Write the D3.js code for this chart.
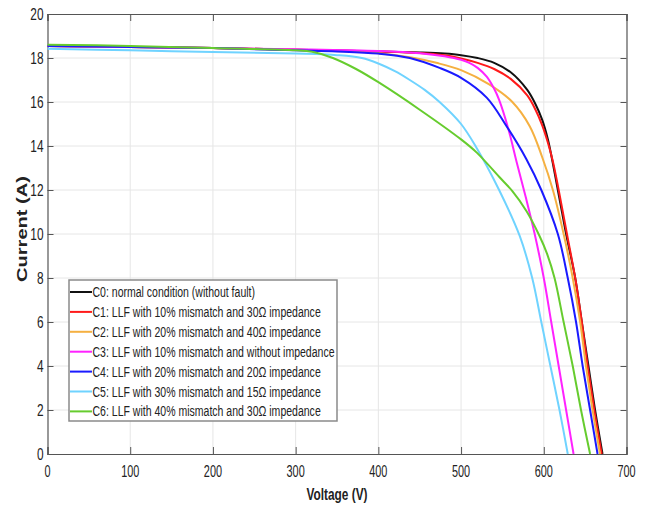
<!DOCTYPE html>
<html>
<head>
<meta charset="utf-8">
<script src="https://cdn.jsdelivr.net/npm/d3@7"></script>
<style>
  body { margin: 0; background: #fff; }
  svg { display: block; }
  text { font-family: "Liberation Sans", Arial, sans-serif; fill: #222; }
</style>
</head>
<body>
<div class="container"></div>
<script>
// tick values
const xTicks = [0, 100, 200, 300, 400, 500, 600, 700];
const yTicks = [0, 2, 4, 6, 8, 10, 12, 14, 16, 18, 20];

const legendLabels = [
  'C0: normal condition (without fault)',
  'C1: LLF with 10% mismatch and 30\u03A9 impedance',
  'C2: LLF with 20% mismatch and 40\u03A9 impedance',
  'C3: LLF with 10% mismatch and without impedance',
  'C4: LLF with 20% mismatch and 20\u03A9 impedance',
  'C5: LLF with 30% mismatch and 15\u03A9 impedance',
  'C6: LLF with 40% mismatch and 30\u03A9 impedance'
];

// [voltage, current]
const c0 = [[0,18.55],[100,18.5],[200,18.45],[300,18.38],[400,18.3],[450,18.25],[480,18.2],[500,18.13],[520,18.0],[540,17.78],[560,17.35],[580,16.55],[590,15.9],[598,15.2],[605,14.3],[611,13.2],[617,12],[622,11],[627,10],[638,8],[646,6],[654,4],[662,2],[671,0]];
const c1 = [[0,18.55],[100,18.5],[200,18.45],[300,18.38],[400,18.3],[450,18.23],[480,18.12],[500,17.98],[520,17.78],[540,17.5],[560,17.05],[580,16.3],[590,15.65],[598,14.95],[605,14.15],[611,13.3],[618,12],[628,10],[638,8],[646,6],[653,4],[661,2],[670,0]];
const c2 = [[0,18.55],[100,18.5],[200,18.45],[300,18.37],[400,18.22],[440,18.02],[470,17.78],[500,17.45],[534,16.8],[562,16.0],[583,14.9],[598,13.5],[611,12.0],[624,10],[635,8],[644,6],[651,4],[659,2],[668,0]];
const c3 = [[0,18.55],[100,18.5],[200,18.45],[300,18.4],[400,18.32],[450,18.22],[480,18.08],[500,17.92],[510,17.78],[520,17.55],[531,17.15],[540,16.6],[546,16.1],[557,14.8],[567,13.3],[578,11.7],[589,10],[600,8],[609,6],[618,4],[627,2],[636,0]];
const c4 = [[0,18.55],[100,18.5],[200,18.45],[300,18.35],[350,18.3],[400,18.2],[438,18.0],[474,17.55],[500,17.1],[531,16.2],[555,14.9],[579,13.4],[597,12],[617,10],[629,8],[639,6],[647,4],[656,2],[665,0]];
const c5 = [[0,18.42],[100,18.35],[200,18.27],[300,18.2],[350,18.13],[380,18.0],[400,17.75],[420,17.4],[438,17.0],[456,16.55],[474,16.0],[500,15.0],[519,13.9],[546,12.0],[571,9.9],[586,8],[597,6],[608,4],[619,2],[629,0]];
const c6 = [[0,18.6],[100,18.55],[200,18.45],[300,18.35],[320,18.28],[345,18.0],[373,17.5],[400,16.9],[450,15.65],[500,14.3],[519,13.7],[546,12.6],[562,11.95],[579,11.05],[595,9.9],[604,9.1],[613,8],[624,6],[635,4],[645,2],[656,0]];

const curves = [c0, c1, c2, c3, c4, c5, c6];
const colors = ['#111111', '#ff1a1a', '#f5b041', '#ff22ff', '#1a1aff', '#6fd3ff', '#66cc2e'];

const width = 647;
const height = 506;
const plotL = 47.5, plotR = 626.5, plotT = 14, plotB = 454;

const svg = d3.select('.container')
  .append('svg')
  .attr('width', width)
  .attr('height', height);

const xScale = d3.scaleLinear().domain([0, 700]).range([plotL, plotR]);
const yScale = d3.scaleLinear().domain([0, 20]).range([plotB, plotT]);

// squeeze text horizontally like the reference
function squeeze(sel, k) {
  sel.each(function () {
    const w = this.getComputedTextLength();
    d3.select(this).attr('textLength', w * k).attr('lengthAdjust', 'spacingAndGlyphs');
  });
}

// grid
svg.append('g')
  .selectAll('line')
  .data(xTicks.slice(1, -1))
  .enter().append('line')
  .attr('x1', d => xScale(d)).attr('x2', d => xScale(d))
  .attr('y1', plotT).attr('y2', plotB)
  .attr('stroke', '#e6e6e6');
svg.append('g')
  .selectAll('line')
  .data(yTicks.slice(1, -1))
  .enter().append('line')
  .attr('y1', d => yScale(d)).attr('y2', d => yScale(d))
  .attr('x1', plotL).attr('x2', plotR)
  .attr('stroke', '#e6e6e6');

// axes, ticks inward
const xAxis = d3.axisBottom(xScale).tickValues(xTicks).tickSize(-7).tickFormat('');
const xAxisTop = d3.axisTop(xScale).tickValues(xTicks).tickSize(-7).tickFormat('');
const yAxis = d3.axisLeft(yScale).tickValues(yTicks).tickSize(-6).tickFormat('');
const yAxisRight = d3.axisRight(yScale).tickValues(yTicks).tickSize(-6).tickFormat('');

svg.append('g').attr('transform', `translate(0, ${plotB})`).call(xAxis);
svg.append('g').attr('transform', `translate(0, ${plotT})`).call(xAxisTop);
svg.append('g').attr('transform', `translate(${plotL}, 0)`).call(yAxis);
svg.append('g').attr('transform', `translate(${plotR}, 0)`).call(yAxisRight);
svg.selectAll('.domain').attr('stroke', '#555').attr('stroke-width', 1.2);
svg.selectAll('.tick line').attr('stroke', '#555');

// tick labels
const xl = svg.append('g').selectAll('text')
  .data(xTicks)
  .enter().append('text')
  .attr('y', 477)
  .attr('font-size', 16)
  .text(d => d);
squeeze(xl, 0.68);
xl.attr('x', function (d) { return xScale(d) - this.getAttribute('textLength') / 2; });

const yl = svg.append('g').selectAll('text')
  .data(yTicks)
  .enter().append('text')
  .attr('y', d => yScale(d) + 6)
  .attr('font-size', 16)
  .text(d => d);
squeeze(yl, 0.74);
yl.attr('x', function (d) { return plotL - 4 - this.getAttribute('textLength'); });

// curves
const line = d3.line()
  .x(d => xScale(d[0]))
  .y(d => yScale(d[1]))
  .curve(d3.curveCatmullRom.alpha(0.5));

svg.append('g')
  .selectAll('path')
  .data(curves)
  .enter().append('path')
  .attr('d', line)
  .attr('fill', 'none')
  .attr('stroke', (d, i) => colors[i])
  .attr('stroke-width', 2);

// axis labels
const xLab = svg.append('text')
  .attr('y', 500)
  .attr('font-size', 16)
  .attr('font-weight', 'bold')
  .text('Voltage (V)');
squeeze(xLab, 0.74);
xLab.attr('x', 337 - xLab.attr('textLength') / 2);

svg.append('text')
  .attr('transform', 'translate(27, 229) rotate(-90)')
  .attr('text-anchor', 'middle')
  .attr('font-size', 15)
  .attr('font-weight', 'bold')
  .attr('textLength', 106)
  .attr('lengthAdjust', 'spacingAndGlyphs')
  .text('Current (A)');

// legend
const legend = svg.append('g');
legend.append('rect')
  .attr('x', 69).attr('y', 280)
  .attr('width', 268).attr('height', 141)
  .attr('fill', '#fff')
  .attr('stroke', '#8a8a8a')
  .attr('stroke-width', 1.5);

const rows = legend.selectAll('g.row')
  .data(legendLabels)
  .enter().append('g')
  .attr('class', 'row')
  .attr('transform', (d, i) => `translate(0, ${292 + i * 19.9})`);

rows.append('line')
  .attr('x1', 70).attr('x2', 92)
  .attr('stroke', (d, i) => colors[i])
  .attr('stroke-width', 2);

const lt = rows.append('text')
  .attr('x', 92.5)
  .attr('y', 5)
  .attr('font-size', 14)
  .text(d => d);
const widest = d3.max(lt.nodes(), n => n.getComputedTextLength());
squeeze(lt, 242 / widest);
</script>
</body>
</html>
